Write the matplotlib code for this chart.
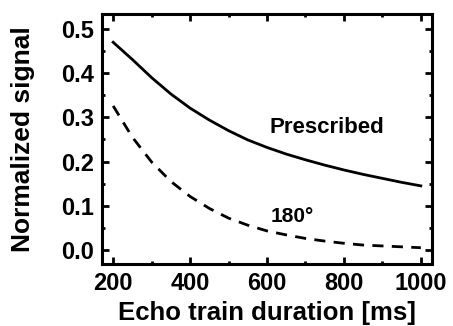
import numpy as np
import matplotlib
matplotlib.use('Agg')
import matplotlib.pyplot as plt
from matplotlib.ticker import MultipleLocator, FormatStrFormatter

plt.rcParams['font.family'] = ['Liberation Sans', 'DejaVu Sans']
plt.rcParams['font.weight'] = 'bold'
plt.rcParams['lines.scale_dashes'] = False

# echo train duration [ms]
duration = [200, 250, 300, 350, 400, 450, 500, 550, 600,
            650, 700, 750, 800, 850, 900, 950, 1000]
# normalized signal
prescribed = [0.470, 0.431, 0.390, 0.353, 0.321, 0.294, 0.270, 0.249, 0.232,
              0.217, 0.204, 0.192, 0.181, 0.171, 0.162, 0.153, 0.145]
refocus_180 = [0.326, 0.255, 0.199, 0.155, 0.121, 0.094, 0.072, 0.056, 0.043,
               0.034, 0.026, 0.020, 0.015, 0.011, 0.009, 0.007, 0.005]

fig = plt.figure(figsize=(4.53, 3.26), dpi=100)
ax = fig.add_axes([0.2252, 0.190, 0.7284, 0.767])

ax.plot(duration, prescribed, color='black', linewidth=2.0)
ax.plot(duration, refocus_180, color='black', linewidth=2.0, dashes=(8, 6))

ax.text(756, 0.278, 'Prescribed', fontsize=16, fontweight='bold',
        ha='center', va='center')
ax.text(665, 0.075, '180°', fontsize=15, fontweight='bold',
        ha='center', va='center')

ax.set_xlim(171, 1029)
ax.set_ylim(-0.032, 0.534)
ax.xaxis.set_major_locator(MultipleLocator(200))
ax.xaxis.set_minor_locator(MultipleLocator(100))
ax.yaxis.set_major_locator(MultipleLocator(0.1))
ax.yaxis.set_minor_locator(MultipleLocator(0.05))
ax.yaxis.set_major_formatter(FormatStrFormatter('%.1f'))

for s in ax.spines.values():
    s.set_linewidth(2.2)
ax.tick_params(which='both', direction='in', top=True, right=True,
               labelsize=17, width=2.0)
ax.tick_params(axis='x', pad=6)
ax.tick_params(axis='y', pad=6)
ax.tick_params(which='major', length=5)
ax.tick_params(which='minor', length=2.5)
for lab in ax.get_xticklabels() + ax.get_yticklabels():
    lab.set_fontweight('bold')

ax.set_xlabel('Echo train duration [ms]', fontsize=18.5, fontweight='bold')
ax.set_ylabel('Normalized signal', fontsize=19, fontweight='bold')
ax.xaxis.set_label_coords(0.5, -0.224)
ax.yaxis.set_label_coords(-0.239, 0.5)
ax.xaxis.label.set_va('baseline')
ax.yaxis.label.set_va('center')

plt.savefig('out.png', dpi=100)
